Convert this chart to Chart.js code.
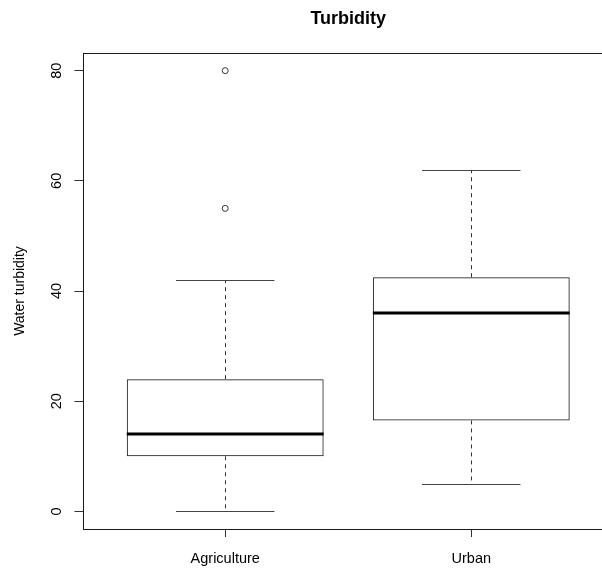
<!DOCTYPE html>
<html>
<head>
<meta charset="utf-8">
<script src="https://cdn.jsdelivr.net/npm/chart.js@4"></script>
<style>
  html, body { margin: 0; padding: 0; background: #fff; overflow: hidden; }
  #wrap { width: 640px; height: 568px; }
</style>
</head>
<body>
<div id="wrap"><canvas id="chart" width="640" height="568"></canvas></div>
<script>
// boxplot summary per group
const groups = ['Agriculture', 'Urban'];
const whiskerLow = [0, 5];
const q1 = [10, 16.5];
const median = [14, 36];
const q3 = [24, 42.5];
const whiskerHigh = [42, 62];
const outliers = [[55, 80], []];
const yTicks = [0, 20, 40, 60, 80];

Chart.defaults.font.family = "'Liberation Sans', Arial, sans-serif";
Chart.defaults.color = '#000';

const BOX_WIDTH = 0.8;      // in x units
const STAPLE_WIDTH = 0.4;   // half of box width, like R's staplewex
const INK = '#1a1a1a';

// R-style axis extension (4% of range)
const allVals = whiskerLow.concat(whiskerHigh, outliers.flat());
const lo = Math.min(...allVals), hi = Math.max(...allVals);
const yMin = lo - 0.04 * (hi - lo);
const yMax = hi + 0.04 * (hi - lo);
const xMin = 0.5 - 0.04 * groups.length;
const xMax = groups.length + 0.5 + 0.04 * groups.length;

const boxData = groups.map((g, i) => ({ x: i + 1, y: [q1[i], q3[i]] }));
const outlierData = [];
outliers.forEach((vals, i) => vals.forEach(v => outlierData.push({ x: i + 1, y: v })));

const crisp = v => Math.round(v) + 0.5;

const boxPlotLines = {
  id: 'boxPlotLines',
  afterDatasetsDraw(chart) {
    const { ctx, scales: { x, y } } = chart;
    ctx.save();
    groups.forEach((g, i) => {
      const cx = crisp(x.getPixelForValue(i + 1));
      const sl = x.getPixelForValue(i + 1 - STAPLE_WIDTH / 2);
      const sr = x.getPixelForValue(i + 1 + STAPLE_WIDTH / 2);
      const bl = x.getPixelForValue(i + 1 - BOX_WIDTH / 2);
      const br = x.getPixelForValue(i + 1 + BOX_WIDTH / 2);

      // dashed whiskers
      ctx.strokeStyle = '#333';
      ctx.lineWidth = 1;
      ctx.setLineDash([4, 4]);
      ctx.beginPath();
      ctx.moveTo(cx, y.getPixelForValue(q3[i]));
      ctx.lineTo(cx, y.getPixelForValue(whiskerHigh[i]));
      ctx.moveTo(cx, y.getPixelForValue(q1[i]));
      ctx.lineTo(cx, y.getPixelForValue(whiskerLow[i]));
      ctx.stroke();

      // staples
      ctx.setLineDash([]);
      ctx.strokeStyle = '#444';
      ctx.beginPath();
      [whiskerHigh[i], whiskerLow[i]].forEach(v => {
        const py = crisp(y.getPixelForValue(v));
        ctx.moveTo(sl, py);
        ctx.lineTo(sr, py);
      });
      ctx.stroke();

      // median
      ctx.strokeStyle = '#000';
      ctx.lineWidth = 3;
      ctx.beginPath();
      const my = Math.round(y.getPixelForValue(median[i]));
      ctx.moveTo(bl, my);
      ctx.lineTo(br, my);
      ctx.stroke();
    });
    ctx.restore();
  },
  afterDraw(chart) {
    const { ctx, chartArea: a, scales: { y } } = chart;
    ctx.save();
    // plot frame
    ctx.strokeStyle = INK;
    ctx.lineWidth = 1;
    ctx.strokeRect(crisp(a.left), crisp(a.top), Math.round(a.right - a.left), Math.round(a.bottom - a.top));
    // rotated y tick labels, R style
    ctx.fillStyle = '#000';
    ctx.font = "14.5px 'Liberation Sans', Arial, sans-serif";
    ctx.textAlign = 'center';
    ctx.textBaseline = 'middle';
    y.ticks.forEach(t => {
      ctx.save();
      ctx.translate(a.left - 26, y.getPixelForValue(t.value));
      ctx.rotate(-Math.PI / 2);
      ctx.fillText(String(t.value), 0, 0);
      ctx.restore();
    });
    ctx.restore();
  }
};

new Chart(document.getElementById('chart'), {
  type: 'bar',
  data: {
    datasets: [
      {
        label: 'box',
        data: boxData,
        backgroundColor: 'rgba(255,255,255,0)',
        borderColor: INK,
        borderWidth: 1,
        borderSkipped: false,
        categoryPercentage: 1,
        barPercentage: BOX_WIDTH
      },
      {
        type: 'scatter',
        label: 'outliers',
        data: outlierData,
        pointStyle: 'circle',
        pointRadius: 3,
        pointBackgroundColor: '#fff',
        pointBorderColor: '#333',
        pointBorderWidth: 1,
        showLine: false
      }
    ]
  },
  options: {
    responsive: false,
    animation: false,
    events: [],
    layout: { padding: { left: 0, right: 26, top: 0, bottom: 0 } },
    plugins: {
      legend: { display: false },
      tooltip: { enabled: false },
      title: {
        display: true,
        text: 'Turbidity',
        fullSize: false,
        color: '#000',
        font: { size: 18, weight: 'bold' },
        padding: { top: 8, bottom: 23.4 }
      }
    },
    scales: {
      x: {
        type: 'linear',
        min: xMin,
        max: xMax,
        offset: false,
        afterBuildTicks: s => { s.ticks = groups.map((g, i) => ({ value: i + 1 })); },
        afterFit: s => { s.height = 39; },
        border: { display: false },
        grid: { drawOnChartArea: false, offset: false, tickLength: 8, color: '#333' },
        ticks: {
          callback: v => groups[Math.round(v) - 1],
          font: { size: 14.5 },
          color: '#000',
          padding: 13,
          autoSkip: false,
          maxRotation: 0
        }
      },
      y: {
        type: 'linear',
        min: yMin,
        max: yMax,
        afterBuildTicks: s => { s.ticks = yTicks.map(v => ({ value: v })); },
        afterFit: s => { s.width = 82.5; },
        border: { display: false },
        grid: { drawOnChartArea: false, tickLength: 8, color: '#333' },
        ticks: { display: false },
        title: {
          display: true,
          text: 'Water turbidity',
          color: '#000',
          font: { size: 14 },
          padding: { top: 12, bottom: 0 }
        }
      }
    }
  },
  plugins: [boxPlotLines]
});
</script>
</body>
</html>
